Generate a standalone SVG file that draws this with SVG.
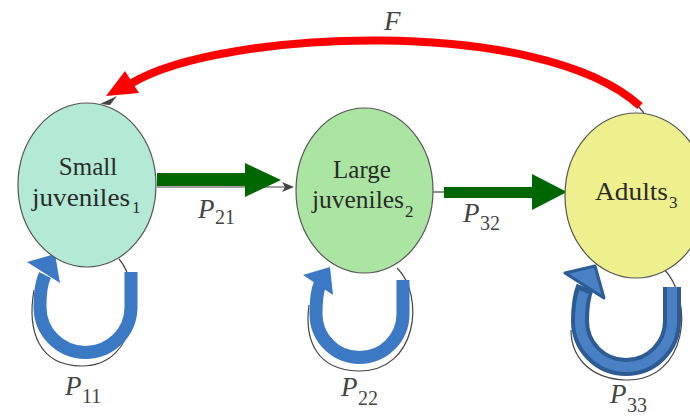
<svg xmlns="http://www.w3.org/2000/svg" width="690" height="416" viewBox="0 0 690 416">
<style>
.node{stroke:#555;stroke-width:1.2}
.name{font-size:25px}
.sub{font-size:17px}
.p{font-size:27px;font-style:italic}
.ps{font-size:20px}
.thin{fill:none;stroke:#444;stroke-width:1.2}
.loop{fill:none;stroke:#3b79c4;stroke-width:13}
.head{fill:#3b79c4}
.t2{font-family:"Liberation Serif","Times New Roman",serif}
</style>
<rect width="690" height="416" fill="#fff"/>
<g id="connectors">
  <path class="thin" d="M119 259 C142 285 140 366 82 366 C38 366 27 330 34 290"/>
  <path class="thin" d="M397 268 C425 295 418 372 358 371 C318 370 304 342 309 305"/>
  <path class="thin" d="M663 268 C695 300 688 381 626 380 C588 379 571 355 571 330"/>
  <path class="thin" d="M157 187 L286 187"/>
  <polygon points="294,187 282,182 285,187 282,192" fill="#444"/>
  <path class="thin" d="M433 192 L446 192"/>
  <path d="M644 113 L638 106" class="thin"/>
  <polygon points="100,104 117,96 110,105" fill="#444"/>
  <path d="M640 106 C540 15 220 30 132 83" fill="none" stroke="#ff0000" stroke-width="8"/>
  <polygon points="106,96 125,71 139,93" fill="#ff0000"/>
  <rect x="157" y="173" width="90" height="13" fill="#006600"/>
  <polygon points="245,163 281,180 245,197" fill="#006600"/>
  <rect x="444" y="187" width="90" height="11" fill="#006600"/>
  <polygon points="532,174 567,192 532,210" fill="#006600"/>
  <path class="loop" d="M131 272 L131 307 A45.5 45.5 0 0 1 40 307 Q40 285 45 275"/>
  <polygon class="head" points="55,254 27,262 60,283"/>
  <path class="loop" d="M403 280 L403 314 A43.5 43.5 0 0 1 316 314 Q316 293 320 284"/>
  <polygon class="head" points="330,267 303,275 333,295"/>
  <path d="M672 287 L672 321 A46 46 0 0 1 580 321 Q580 300 585 287" fill="none" stroke="#2d5b94" stroke-width="18"/>
  <polygon points="595,266 565,273 604,298" fill="#4a80c4" stroke="#2d5b94" stroke-width="3" stroke-linejoin="round"/>
  <path d="M672 287 L672 321 A46 46 0 0 1 580 321 Q580 302 584 292" fill="none" stroke="#4a80c4" stroke-width="10"/>
</g>
<g fill="#2a2a2a" class="t2">
<g id="node1">
  <ellipse class="node" cx="87" cy="185" rx="69" ry="82" fill="#b3ead5"/>
  <text class="name" x="88" y="175" text-anchor="middle">Small</text>
  <text class="name" x="32" y="206" textLength="98" lengthAdjust="spacingAndGlyphs">juveniles</text>
  <text class="sub" x="132" y="213">1</text>
</g>
<g id="node2">
  <ellipse class="node" cx="364.5" cy="190.5" rx="68.5" ry="82.5" fill="#aae6a2"/>
  <text class="name" x="362" y="178" text-anchor="middle">Large</text>
  <text class="name" x="312" y="208" textLength="92" lengthAdjust="spacingAndGlyphs">juveniles</text>
  <text class="sub" x="405" y="217">2</text>
</g>
<g id="node3">
  <ellipse class="node" cx="636" cy="195.5" rx="71" ry="82.5" fill="#eef08e"/>
  <text class="name" x="595" y="200" textLength="73" lengthAdjust="spacingAndGlyphs">Adults</text>
  <text class="sub" x="669" y="208">3</text>
</g>
<g id="labels" fill="#444">
  <text class="p" x="384" y="30" font-size="24">F</text>
  <text class="p" x="198" y="218">P</text><text class="ps" x="215" y="224">21</text>
  <text class="p" x="463" y="222">P</text><text class="ps" x="480" y="230">32</text>
  <text class="p" x="65" y="395">P</text><text class="ps" x="82" y="403">11</text>
  <text class="p" x="341" y="396">P</text><text class="ps" x="358" y="405">22</text>
  <text class="p" x="610" y="403">P</text><text class="ps" x="627" y="412">33</text>
</g>
</g>
</svg>
